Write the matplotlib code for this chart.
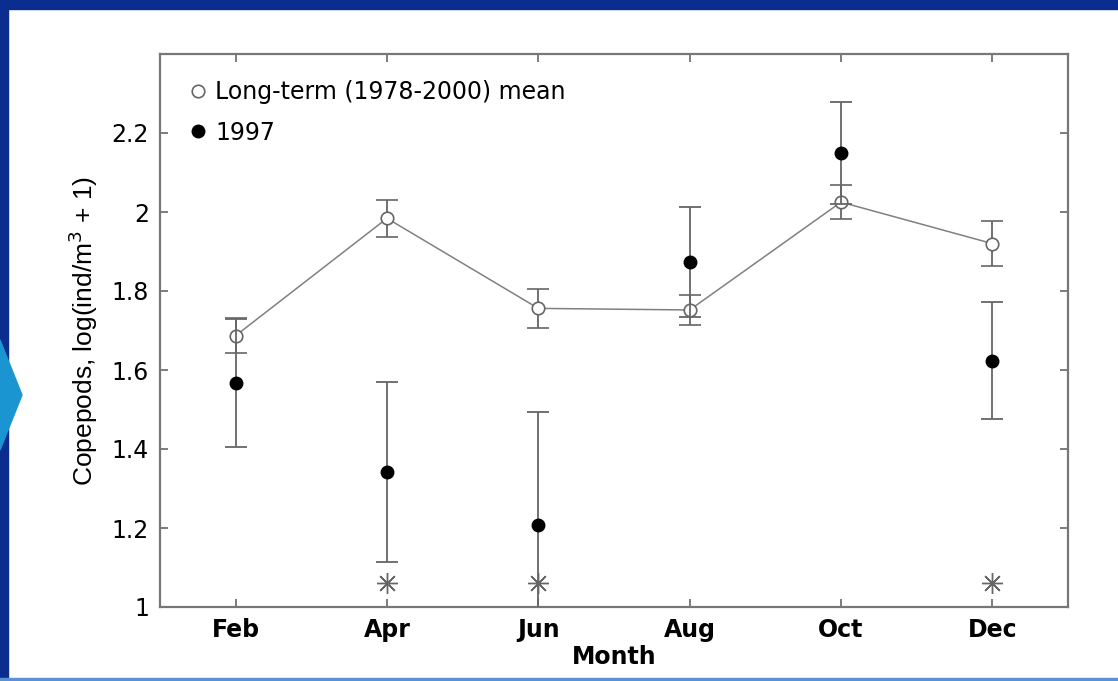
import matplotlib
matplotlib.use("Agg")
import matplotlib.pyplot as plt
from matplotlib.lines import Line2D
from matplotlib.patches import Polygon, Rectangle

# data
months = [2, 4, 6, 8, 10, 12]
month_labels = ["Feb", "Apr", "Jun", "Aug", "Oct", "Dec"]
mean_vals = [1.687, 1.984, 1.756, 1.752, 2.025, 1.920]
mean_err = [0.045, 0.047, 0.050, 0.038, 0.043, 0.056]
y1997_vals = [1.567, 1.342, 1.208, 1.873, 2.149, 1.623]
y1997_err = [0.162, 0.227, 0.286, 0.140, 0.130, 0.148]
sig_months = [4, 6, 12]
sig_level = [1.06, 1.06, 1.06]

plt.rcParams["font.family"] = ["DejaVu Sans"]
gray = "#666666"

fig = plt.figure(figsize=(11.18, 6.81), dpi=100)

# slide frame: dark blue border and the light blue chevron
fig.patches.append(Rectangle((0, 0), 8 / 1118, 1, transform=fig.transFigure,
                             color="#0a2d8f", zorder=0))
fig.patches.append(Rectangle((0, 1 - 9 / 681), 1, 9 / 681, transform=fig.transFigure,
                             color="#0a2d8f", zorder=0))
fig.patches.append(Rectangle((0, 0), 1, 3 / 681, transform=fig.transFigure,
                             color="#5b8fd6", zorder=0))
fig.patches.append(Polygon([(0, 1 - 340 / 681), (22 / 1118, 1 - 395 / 681),
                            (0, 1 - 450 / 681)], closed=True,
                           transform=fig.transFigure, color="#1b95d2", zorder=1))

ax = fig.add_axes([160 / 1118, 1 - 607 / 681, 908 / 1118, 553 / 681])

ax.plot(months, mean_vals, color="#808080", lw=1.1, zorder=2)
ax.errorbar(months, mean_vals, yerr=mean_err, fmt="o", ms=9, mfc="white",
            mec=gray, mew=1.2, ecolor=gray, elinewidth=1.3, capsize=8,
            capthick=1.3, zorder=3)
ax.errorbar(months, y1997_vals, yerr=y1997_err, fmt="o", ms=9, mfc="black",
            mec="black", ecolor=gray, elinewidth=1.3, capsize=8, capthick=1.3,
            zorder=4)
ax.plot(sig_months, sig_level, linestyle="none", marker=(8, 2, 0), ms=15,
        mec=gray, mew=1.0, zorder=3)

ax.set_xlim(1, 13)
ax.set_ylim(1, 2.4)
ax.set_xticks(months)
ax.set_xticklabels(month_labels, fontsize=17, fontweight="bold")
ax.set_yticks([1, 1.2, 1.4, 1.6, 1.8, 2, 2.2])
ax.set_yticklabels(["1", "1.2", "1.4", "1.6", "1.8", "2", "2.2"], fontsize=17)
ax.tick_params(direction="in", top=True, right=True, length=6, width=1.2,
               color=gray, pad=8)
for s in ax.spines.values():
    s.set_color("#777777")
    s.set_linewidth(1.6)

ax.set_xlabel("Month", fontsize=17, fontweight="bold", labelpad=2)
ax.set_ylabel("Copepods, log(ind/m$^3$ + 1)", fontsize=19, labelpad=8,
              family="Liberation Sans")

handles = [
    Line2D([], [], linestyle="none", marker="o", ms=9, mfc="white", mec=gray, mew=1.2),
    Line2D([], [], linestyle="none", marker="o", ms=9, mfc="black", mec="black"),
]
ax.legend(handles, ["Long-term (1978-2000) mean", "1997"], loc="upper left",
          frameon=False, fontsize=17, handletextpad=0.25, handlelength=1.0,
          labelspacing=0.7, borderaxespad=0.5, borderpad=0.6)

fig.savefig("out.png", dpi=100)
